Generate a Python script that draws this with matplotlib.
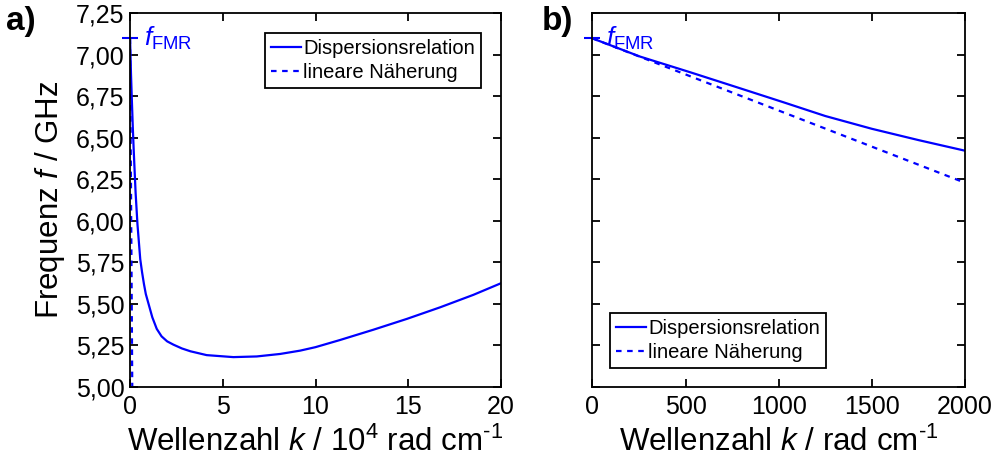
import matplotlib
matplotlib.use("Agg")
import matplotlib.pyplot as plt
from matplotlib.ticker import FuncFormatter, MultipleLocator

plt.rcParams["font.family"] = ["Liberation Sans", "DejaVu Sans"]
plt.rcParams["mathtext.fontset"] = "custom"
plt.rcParams["mathtext.rm"] = "Liberation Sans"
plt.rcParams["mathtext.it"] = "Liberation Sans:italic"
plt.rcParams["mathtext.bf"] = "Liberation Sans:bold"

# --- data ---
f_fmr = 7.10

# panel a: k in 10^4 rad/cm
k_a = [0, 0.05, 0.10, 0.15, 0.20, 0.30, 0.40, 0.55, 0.65, 0.75, 0.85, 1.0,
       1.2, 1.44, 1.7, 2.0, 2.34, 2.8, 3.26, 4.13, 5.57, 6.83, 8.09, 9.17,
       10.0, 11.32, 13.12, 14.92, 16.72, 18.51, 20.0]
f_a = [7.10, 6.89, 6.72, 6.56, 6.42, 6.17, 5.98, 5.77, 5.69, 5.62, 5.56, 5.50,
       5.42, 5.35, 5.305, 5.275, 5.255, 5.232, 5.215, 5.192, 5.180, 5.184,
       5.199, 5.219, 5.240, 5.283, 5.345, 5.410, 5.480, 5.555, 5.625]
k_a_lin = [0, 0.12]
f_a_lin = [7.10, 5.00]

# panel b: k in rad/cm
k_b = [0, 256, 524, 793, 1025, 1250, 1500, 1750, 2000]
f_b = [7.10, 6.990, 6.896, 6.799, 6.715, 6.632, 6.555, 6.487, 6.423]
k_b_lin = [0, 2000]
f_b_lin = [7.10, 6.23]

blue = "#0000ff"
comma = FuncFormatter(lambda v, p: f"{v:.2f}".replace(".", ","))

fig = plt.figure(figsize=(9.98, 4.67), dpi=100)
ax1 = fig.add_axes([0.1303, 0.1713, 0.3717, 0.8000])
ax2 = fig.add_axes([0.5935, 0.1713, 0.3735, 0.8000])

for ax in (ax1, ax2):
    ax.set_ylim(5.0, 7.25)
    ax.yaxis.set_major_locator(MultipleLocator(0.25))
    ax.tick_params(direction="in", length=6, width=1.3, top=True, right=True,
                   labelsize=18, pad=4)
    ax.tick_params(axis="x", pad=6)
    for s in ax.spines.values():
        s.set_linewidth(1.3)

ax1.plot(k_a, f_a, color=blue, lw=1.6, label="Dispersionsrelation")
ax1.plot(k_a_lin, f_a_lin, color=blue, lw=1.6, ls=(0, (2.5, 2.5)),
         label="lineare Näherung")
ax1.plot([0], [f_fmr], marker="_", ms=12, mew=1.5, color=blue, clip_on=False)
ax1.text(0.75, f_fmr, r"$f_{\mathrm{FMR}}$", color=blue, fontsize=19,
         va="center", ha="left")
ax1.set_xlim(0, 20)
ax1.xaxis.set_major_locator(MultipleLocator(5))
ax1.yaxis.set_major_formatter(comma)
ax1.set_ylabel(r"Frequenz $f$ / GHz", fontsize=22.5, labelpad=6)
ax1.set_xlabel(r"Wellenzahl $k$ / 10$^{4}$ rad cm$^{\text{-1}}$",
               fontsize=22.5, labelpad=5)

ax2.plot(k_b, f_b, color=blue, lw=1.6, label="Dispersionsrelation")
ax2.plot(k_b_lin, f_b_lin, color=blue, lw=1.6, ls=(0, (2.5, 2.5)),
         label="lineare Näherung")
ax2.plot([0], [f_fmr], marker="_", ms=12, mew=1.5, color=blue, clip_on=False)
ax2.text(75, f_fmr, r"$f_{\mathrm{FMR}}$", color=blue, fontsize=19,
         va="center", ha="left")
ax2.set_xlim(0, 2000)
ax2.xaxis.set_major_locator(MultipleLocator(500))
ax2.set_yticklabels([])
ax2.set_xlabel(r"Wellenzahl $k$ / rad cm$^{\text{-1}}$", fontsize=22.5,
               labelpad=5)

leg_kw = dict(fontsize=14.5, handlelength=1.5, handletextpad=0.1,
              borderpad=0.3, labelspacing=0.25, borderaxespad=0,
              fancybox=False, edgecolor="black", framealpha=1)
l1 = ax1.legend(loc="upper right", bbox_to_anchor=(0.946, 0.948), **leg_kw)
l2 = ax2.legend(loc="lower left", bbox_to_anchor=(0.0475, 0.05), **leg_kw)
for l in (l1, l2):
    l.get_frame().set_linewidth(1.3)

fig.text(0.006, 0.953, "a)", fontsize=24, fontweight="bold", va="center")
fig.text(0.543, 0.953, "b)", fontsize=24, fontweight="bold", va="center")

fig.savefig("out.png", dpi=100)
